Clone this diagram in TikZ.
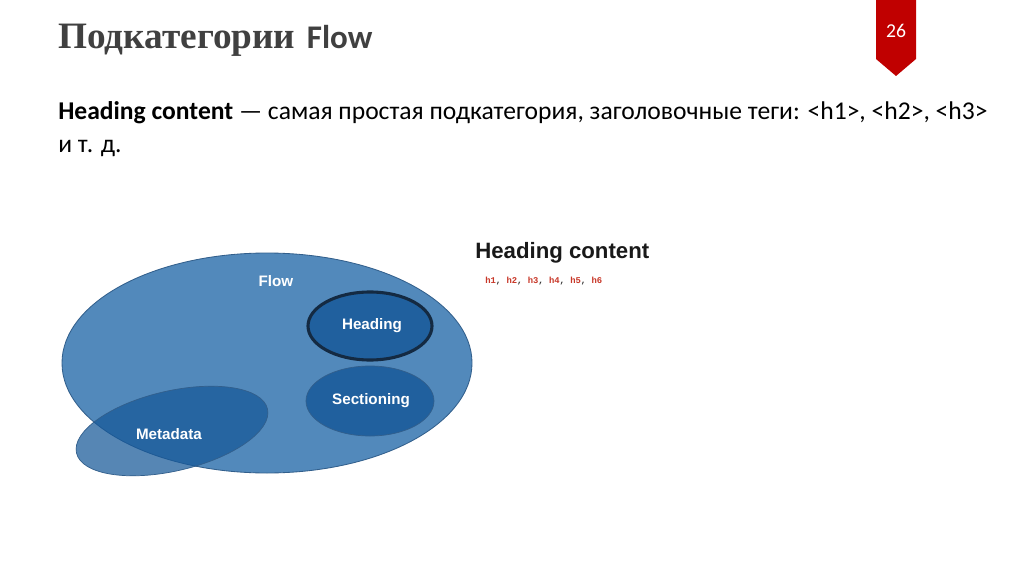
\documentclass[tikz,border=0pt]{standalone}
\usepackage{fontspec}
\setmainfont{Carlito}
\newfontfamily\titrefont{Liberation Serif}
\newfontfamily\helvfont{Liberation Sans}
\newfontfamily\codefont{Liberation Mono}
\usetikzlibrary{positioning}

\definecolor{flowbleu}{RGB}{82,137,187}
\definecolor{bordbleu}{RGB}{50,95,140}
\definecolor{foncebleu}{RGB}{32,96,158}
\definecolor{metableu}{RGB}{22,88,152}
\definecolor{contour}{RGB}{20,42,66}
\definecolor{rubanrouge}{RGB}{192,0,0}
\definecolor{gristitre}{RGB}{64,64,64}
\definecolor{rougetag}{RGB}{200,55,40}

\newcommand{\htag}[1]{\textcolor{rougetag}{#1}}

\tikzset{
    titre/.style={anchor=base west, text=gristitre, font=\fontsize{23.5}{28}\selectfont\bfseries, inner sep=0pt},
    corps/.style={anchor=base west, text=black, font=\fontsize{18.2}{22}\selectfont, inner sep=0pt},
    etiquette/.style={text=white, font=\helvfont\bfseries\fontsize{10.8}{12}\selectfont, inner sep=0pt},
    sousbulle/.style={fill=foncebleu, draw=bordbleu, line width=0.5pt}
}

\begin{document}
\begin{tikzpicture}[x=0.25mm, y=-0.25mm]
        \useasboundingbox (0,0) rectangle (1024,574);
        \fill[white] (0,0) rectangle (1024,574);

        % -- En-tete : titre et ruban --
        \node[titre] (titre) at (58,49) {{\titrefont\fontsize{26.5}{30}\selectfont Подкатегории}\hspace{0.35em}Flow};

        \fill[rubanrouge] (876,0) -- (916,0) -- (916,59) -- (896,76) -- (876,59) -- cycle;
        \node[text=white, font=\fontsize{14}{16}\selectfont, inner sep=0pt] (numero) at (896,31) {26};

        % -- Texte --
        \node[corps] (ligne1) at (58,120) {\textbf{Heading content} — самая простая подкатегория, заголовочные теги: <h1>, <h2>, <h3>};
        \node[corps] (ligne2) at (58,153) {и т. д.};

        % -- Diagramme : ensembles --
        \coordinate (cflow) at (267,363);
        \coordinate (cheading) at (370,326);
        \coordinate (csection) at (370,401);
        \coordinate (cmeta) at (172,431);

        % Flow (grand ensemble)
        \draw[fill=flowbleu, draw=bordbleu, line width=0.6pt] (cflow) ellipse [x radius=205, y radius=110];

        % Heading et Sectioning
        \draw[sousbulle, draw=contour, line width=2.2pt] (cheading) ellipse [x radius=62, y radius=34];
        \draw[sousbulle] (csection) ellipse [x radius=64, y radius=35];

        % Metadata (deborde, semi-transparent)
        \draw[fill=metableu, fill opacity=0.72, draw=bordbleu, line width=0.5pt, rotate around={13:(cmeta)}] (cmeta) ellipse [x radius=98, y radius=40];

        % Etiquettes
        \node[etiquette] (flow) at (276,281) {Flow};
        \node[etiquette] (heading) at (372,326) {Heading};
        \node[etiquette] (sectioning) at (371,401) {Sectioning};
        \node[etiquette] (metadata) at (169,434) {Metadata};

        % -- Legende a droite --
        \node[anchor=base west, inner sep=0pt, text=black!90, font=\helvfont\bfseries\fontsize{15.8}{18}\selectfont] (legende) at (475,258) {Heading content};
        \node[anchor=base west, inner sep=0pt, text=black!80, font=\codefont\bfseries\fontsize{6.3}{8}\selectfont] (balises) at (485,283) {\htag{h1}, \htag{h2}, \htag{h3}, \htag{h4}, \htag{h5}, \htag{h6}};
    \end{tikzpicture}
\end{document}
